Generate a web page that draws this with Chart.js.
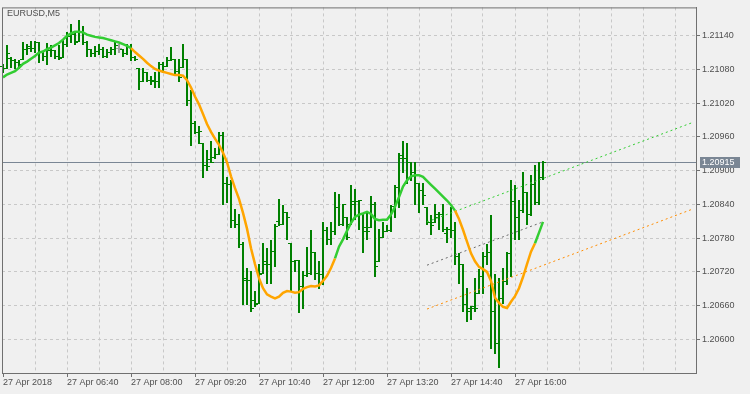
<!DOCTYPE html>
<html>
<head>
<meta charset="utf-8">
<script src="https://cdn.jsdelivr.net/npm/chart.js@4.4.1/dist/chart.umd.min.js"></script>
<style>
  html, body { margin: 0; padding: 0; background: #f0f0f0; }
  canvas { display: block; }
</style>
</head>
<body>
<canvas id="chart" width="750" height="394"></canvas>
<script>
// EURUSD M5 bars, one per 5 minutes starting 05:20
var symbol = 'EURUSD,M5';
var timeLabels = ['27 Apr 2018', '27 Apr 06:40', '27 Apr 08:00', '27 Apr 09:20', '27 Apr 10:40',
                  '27 Apr 12:00', '27 Apr 13:20', '27 Apr 14:40', '27 Apr 16:00'];
var timeLabelBars = [0, 16, 32, 48, 64, 80, 96, 112, 128];
var gridBars = [0, 8, 16, 24, 32, 40, 48, 56, 64, 72, 80, 88, 96, 104, 112, 120, 128, 136, 144, 152, 160, 168];
var priceTicks = [1.20600, 1.20660, 1.20720, 1.20780, 1.20840, 1.20900, 1.20960, 1.21020, 1.21080, 1.21140];

var open = [1.21087, 1.21083, 1.21100, 1.21096, 1.21094, 1.21099, 1.21117, 1.21121, 1.21119, 1.21129,
            1.21111, 1.21104, 1.21118, 1.21115, 1.21104, 1.21103, 1.21125, 1.21140, 1.21143, 1.21131,
            1.21148, 1.21129, 1.21117, 1.21110, 1.21113, 1.21117, 1.21104, 1.21111, 1.21117, 1.21119,
            1.21117, 1.21110, 1.21120, 1.21103, 1.21082, 1.21059, 1.21076, 1.21062, 1.21062, 1.21059,
            1.21090, 1.21087, 1.21097, 1.21099, 1.21078, 1.21085, 1.21099, 1.21025, 1.20985, 1.20969,
            1.20950, 1.20911, 1.20920, 1.20925, 1.20929, 1.20964, 1.20879, 1.20876, 1.20813, 1.20806,
            1.20769, 1.20710, 1.20706, 1.20670, 1.20665, 1.20718, 1.20740, 1.20734, 1.20758, 1.20810,
            1.20806, 1.20827, 1.20771, 1.20739, 1.20741, 1.20695, 1.20715, 1.20718, 1.20756, 1.20718,
            1.20716, 1.20795, 1.20779, 1.20792, 1.20836, 1.20806, 1.20818, 1.20806, 1.20840, 1.20846,
            1.20823, 1.20800, 1.20800, 1.20841, 1.20739, 1.20783, 1.20792, 1.20795, 1.20837, 1.20871,
            1.20928, 1.20923, 1.20915, 1.20897, 1.20879, 1.20865, 1.20836, 1.20809, 1.20809, 1.20818,
            1.20823, 1.20790, 1.20797, 1.20795, 1.20748, 1.20735, 1.20663, 1.20650, 1.20660, 1.20683,
            1.20713, 1.20748, 1.20756, 1.20651, 1.20593, 1.20674, 1.20704, 1.20753, 1.20846, 1.20818,
            1.20830, 1.20862, 1.20823, 1.20876, 1.20844, 1.20888];
var high = [1.21090, 1.21124, 1.21103, 1.21099, 1.21097, 1.21129, 1.21125, 1.21131, 1.21131, 1.21129,
            1.21113, 1.21127, 1.21124, 1.21115, 1.21124, 1.21132, 1.21147, 1.21161, 1.21147, 1.21168,
            1.21157, 1.21131, 1.21117, 1.21122, 1.21125, 1.21120, 1.21117, 1.21120, 1.21129, 1.21125,
            1.21117, 1.21125, 1.21125, 1.21104, 1.21082, 1.21082, 1.21076, 1.21069, 1.21076, 1.21094,
            1.21094, 1.21103, 1.21120, 1.21099, 1.21099, 1.21125, 1.21099, 1.21043, 1.20988, 1.20980,
            1.20950, 1.20937, 1.20953, 1.20941, 1.20968, 1.20969, 1.20888, 1.20883, 1.20832, 1.20823,
            1.20774, 1.20727, 1.20721, 1.20686, 1.20734, 1.20771, 1.20762, 1.20776, 1.20806, 1.20850,
            1.20839, 1.20827, 1.20771, 1.20742, 1.20742, 1.20721, 1.20765, 1.20795, 1.20756, 1.20739,
            1.20809, 1.20800, 1.20809, 1.20862, 1.20858, 1.20841, 1.20818, 1.20874, 1.20867, 1.20848,
            1.20823, 1.20827, 1.20855, 1.20844, 1.20797, 1.20809, 1.20804, 1.20839, 1.20874, 1.20932,
            1.20953, 1.20950, 1.20915, 1.20915, 1.20879, 1.20879, 1.20836, 1.20822, 1.20841, 1.20827,
            1.20841, 1.20800, 1.20836, 1.20809, 1.20753, 1.20735, 1.20692, 1.20660, 1.20709, 1.20725,
            1.20756, 1.20769, 1.20822, 1.20716, 1.20709, 1.20727, 1.20756, 1.20883, 1.20874, 1.20848,
            1.20897, 1.20862, 1.20893, 1.20911, 1.20915, 1.20918];
var low = [1.21076, 1.21083, 1.21085, 1.21082, 1.21083, 1.21099, 1.21108, 1.21113, 1.21111, 1.21094,
           1.21096, 1.21090, 1.21104, 1.21101, 1.21099, 1.21103, 1.21122, 1.21129, 1.21125, 1.21131,
           1.21125, 1.21104, 1.21104, 1.21104, 1.21108, 1.21103, 1.21103, 1.21108, 1.21108, 1.21111,
           1.21104, 1.21108, 1.21096, 1.21096, 1.21045, 1.21059, 1.21059, 1.21055, 1.21048, 1.21048,
           1.21076, 1.21087, 1.21096, 1.21073, 1.21059, 1.21085, 1.21017, 1.20946, 1.20967, 1.20950,
           1.20888, 1.20902, 1.20915, 1.20923, 1.20929, 1.20841, 1.20844, 1.20800, 1.20800, 1.20765,
           1.20663, 1.20663, 1.20651, 1.20660, 1.20665, 1.20718, 1.20700, 1.20700, 1.20730, 1.20804,
           1.20806, 1.20779, 1.20686, 1.20721, 1.20648, 1.20656, 1.20713, 1.20716, 1.20707, 1.20692,
           1.20698, 1.20769, 1.20769, 1.20788, 1.20804, 1.20804, 1.20779, 1.20806, 1.20814, 1.20797,
           1.20756, 1.20779, 1.20800, 1.20713, 1.20739, 1.20783, 1.20792, 1.20792, 1.20818, 1.20836,
           1.20897, 1.20879, 1.20883, 1.20841, 1.20827, 1.20841, 1.20806, 1.20788, 1.20809, 1.20797,
           1.20792, 1.20774, 1.20783, 1.20735, 1.20700, 1.20651, 1.20633, 1.20637, 1.20651, 1.20683,
           1.20683, 1.20735, 1.20584, 1.20575, 1.20551, 1.20665, 1.20698, 1.20713, 1.20778, 1.20779,
           1.20827, 1.20806, 1.20822, 1.20841, 1.20841, 1.20885];
var close = [1.21083, 1.21110, 1.21096, 1.21094, 1.21090, 1.21117, 1.21119, 1.21119, 1.21129, 1.21111,
             1.21104, 1.21115, 1.21115, 1.21104, 1.21101, 1.21125, 1.21143, 1.21143, 1.21129, 1.21148,
             1.21129, 1.21117, 1.21110, 1.21113, 1.21117, 1.21104, 1.21111, 1.21117, 1.21124, 1.21119,
             1.21110, 1.21120, 1.21103, 1.21099, 1.21059, 1.21076, 1.21062, 1.21059, 1.21059, 1.21090,
             1.21087, 1.21097, 1.21099, 1.21078, 1.21067, 1.21099, 1.21025, 1.20985, 1.20969, 1.20971,
             1.20911, 1.20909, 1.20915, 1.20929, 1.20964, 1.20879, 1.20876, 1.20813, 1.20806, 1.20769,
             1.20706, 1.20706, 1.20656, 1.20663, 1.20716, 1.20734, 1.20734, 1.20758, 1.20802, 1.20806,
             1.20827, 1.20818, 1.20739, 1.20741, 1.20695, 1.20692, 1.20718, 1.20756, 1.20718, 1.20716,
             1.20795, 1.20779, 1.20792, 1.20836, 1.20806, 1.20841, 1.20783, 1.20846, 1.20846, 1.20848,
             1.20792, 1.20792, 1.20841, 1.20730, 1.20783, 1.20792, 1.20795, 1.20837, 1.20871, 1.20923,
             1.20923, 1.20915, 1.20897, 1.20879, 1.20865, 1.20857, 1.20809, 1.20804, 1.20823, 1.20823,
             1.20797, 1.20797, 1.20795, 1.20748, 1.20735, 1.20663, 1.20656, 1.20656, 1.20656, 1.20713,
             1.20748, 1.20756, 1.20651, 1.20593, 1.20674, 1.20704, 1.20753, 1.20846, 1.20818, 1.20830,
             1.20862, 1.20823, 1.20876, 1.20844, 1.20888, 1.20915];

// smoothed moving average, one value per bar
var ma = [1.21066, 1.21071, 1.21074, 1.21077, 1.21083, 1.21090, 1.21094, 1.21099, 1.21104, 1.21110,
          1.21112, 1.21116, 1.21119, 1.21123, 1.21127, 1.21133, 1.21140, 1.21144, 1.21147, 1.21147,
          1.21146, 1.21142, 1.21140, 1.21138, 1.21137, 1.21136, 1.21134, 1.21132, 1.21130, 1.21128,
          1.21125, 1.21122, 1.21118, 1.21111, 1.21105, 1.21099, 1.21092, 1.21086, 1.21081, 1.21078,
          1.21076, 1.21074, 1.21072, 1.21070, 1.21070, 1.21069, 1.21061, 1.21048, 1.21032, 1.21018,
          1.21001, 1.20983, 1.20969, 1.20957, 1.20946, 1.20932, 1.20915, 1.20890, 1.20869, 1.20850,
          1.20825, 1.20797, 1.20762, 1.20734, 1.20709, 1.20691, 1.20680, 1.20676, 1.20673, 1.20676,
          1.20683, 1.20686, 1.20685, 1.20683, 1.20684, 1.20690, 1.20693, 1.20695, 1.20694, 1.20696,
          1.20704, 1.20713, 1.20727, 1.20744, 1.20765, 1.20778, 1.20793, 1.20807, 1.20818, 1.20822,
          1.20824, 1.20827, 1.20823, 1.20814, 1.20812, 1.20813, 1.20813, 1.20822, 1.20836, 1.20853,
          1.20872, 1.20883, 1.20890, 1.20892, 1.20892, 1.20889, 1.20882, 1.20875, 1.20868, 1.20861,
          1.20854, 1.20847, 1.20839, 1.20829, 1.20814, 1.20795, 1.20774, 1.20753, 1.20739, 1.20729,
          1.20725, 1.20720, 1.20704, 1.20674, 1.20665, 1.20658, 1.20656, 1.20667, 1.20677, 1.20691,
          1.20711, 1.20734, 1.20756, 1.20771, 1.20790, 1.20809];
var maTrendStart = [0, 32, 83, 113, 133];
var maTrend = ['up', 'down', 'up', 'down', 'up'];

// regression channel
var channelBars = [106, 172.5];
var channelMidBars = [106, 135];
var channelUpper = [1.20809, 1.20986];
var channelMid = [1.20732, 1.20809];
var channelLower = [1.20654, 1.20832];

var textColor = '#505050';
var frameColor = '#707070';
var gridColor = '#c8c8c8';
var barColor = '#008000';
var dojiColor = '#a0a0a0';
var upColor = '#32cd32';
var downColor = '#ffa500';
var priceLineColor = '#7a8694';
var font9 = { family: 'Liberation Sans', size: 9 };

function trendAt(i) {
  var t = maTrend[0];
  for (var k = 0; k < maTrendStart.length; k++) {
    if (i >= maTrendStart[k]) t = maTrend[k];
  }
  return t;
}

function pts(xs, ys) {
  return xs.map(function(x, i) { return { x: x, y: ys[i] }; });
}

var ohlcPlugin = {
  id: 'ohlc',
  beforeDatasetsDraw: function(chart) {
    var ctx = chart.ctx, xs = chart.scales.x, ys = chart.scales.y, a = chart.chartArea;
    ctx.save();
    // last price line
    var py = Math.round(ys.getPixelForValue(close[close.length - 1])) + 0.5;
    ctx.strokeStyle = priceLineColor;
    ctx.lineWidth = 1;
    ctx.beginPath();
    ctx.moveTo(a.left, py);
    ctx.lineTo(a.right, py);
    ctx.stroke();

    for (var i = 0; i < close.length; i++) {
      var px = Math.round(xs.getPixelForValue(i));
      var hy = Math.round(ys.getPixelForValue(high[i]));
      var ly = Math.round(ys.getPixelForValue(low[i]));
      var oy = Math.round(ys.getPixelForValue(open[i]));
      var cy = Math.round(ys.getPixelForValue(close[i]));
      ctx.fillStyle = open[i] === close[i] ? dojiColor : barColor;
      ctx.fillRect(px - 1, hy, 2, ly - hy + 1);
      ctx.fillRect(px - 3, oy, 2, 1);
      ctx.fillRect(px + 1, cy, 2, 1);
    }
    ctx.restore();
  },
  afterDraw: function(chart) {
    var ctx = chart.ctx, ys = chart.scales.y, a = chart.chartArea;
    ctx.save();
    // frame
    ctx.strokeStyle = frameColor;
    ctx.lineWidth = 1;
    ctx.strokeRect(a.left + 0.5, a.top + 0.5, a.right - a.left, a.bottom - a.top);
    // symbol title
    ctx.fillStyle = textColor;
    ctx.font = '9px "Liberation Sans"';
    ctx.textBaseline = 'top';
    ctx.textAlign = 'left';
    ctx.fillText(symbol, a.left + 5, a.top + 2);
    // last price tag
    var last = close[close.length - 1];
    var py = Math.round(ys.getPixelForValue(last));
    ctx.fillStyle = priceLineColor;
    ctx.fillRect(a.right + 4, py - 5, 40, 11);
    ctx.fillStyle = '#ffffff';
    ctx.textBaseline = 'middle';
    ctx.fillText(last.toFixed(5), a.right + 6, py + 0.5);
    ctx.restore();
  }
};

new Chart(document.getElementById('chart'), {
  type: 'line',
  data: {
    datasets: [{
      data: pts(close.map(function(v, i) { return i; }), ma),
      borderWidth: 2.5,
      pointRadius: 0,
      borderColor: upColor,
      segment: {
        borderColor: function(c) { return trendAt(c.p0DataIndex) === 'up' ? upColor : downColor; }
      }
    }, {
      data: pts(channelBars, channelUpper),
      borderWidth: 1, pointRadius: 0, borderColor: upColor, borderDash: [2, 3]
    }, {
      data: pts(channelMidBars, channelMid),
      borderWidth: 1, pointRadius: 0, borderColor: '#696969', borderDash: [2, 3]
    }, {
      data: pts(channelBars, channelLower),
      borderWidth: 1, pointRadius: 0, borderColor: '#ff8c00', borderDash: [2, 3]
    }]
  },
  options: {
    responsive: false,
    animation: false,
    layout: { padding: { left: 2, top: 3, right: 0, bottom: 0 } },
    plugins: { legend: { display: false }, tooltip: { enabled: false } },
    scales: {
      x: {
        type: 'linear',
        min: -0.25,
        max: 173.25,
        afterBuildTicks: function(s) { s.ticks = gridBars.map(function(v) { return { value: v }; }); },
        afterFit: function(s) { s.height = 21; },
        ticks: {
          autoSkip: false, maxRotation: 0, align: 'start', padding: 0,
          color: textColor, font: font9,
          callback: function(v) {
            var k = timeLabelBars.indexOf(v);
            return k >= 0 ? timeLabels[k] : '';
          }
        },
        grid: {
          color: function(c) { return c.index === 0 ? 'rgba(0,0,0,0)' : gridColor; },
          tickLength: 4,
          tickColor: function(c) { return c.tick && timeLabelBars.indexOf(c.tick.value) >= 0 ? frameColor : 'rgba(0,0,0,0)'; }
        },
        border: { display: true, color: frameColor, dash: [3, 3] }
      },
      y: {
        type: 'linear',
        position: 'right',
        min: 1.205403,
        max: 1.211904,
        afterBuildTicks: function(s) { s.ticks = priceTicks.map(function(v) { return { value: v }; }); },
        afterFit: function(s) { s.width = 54; },
        ticks: {
          padding: 2, color: textColor, font: font9,
          callback: function(v) { return v.toFixed(5); }
        },
        grid: { color: gridColor, tickLength: 4, tickColor: frameColor },
        border: { display: true, color: frameColor, dash: [3, 3] }
      }
    }
  },
  plugins: [ohlcPlugin]
});
</script>
</body>
</html>
